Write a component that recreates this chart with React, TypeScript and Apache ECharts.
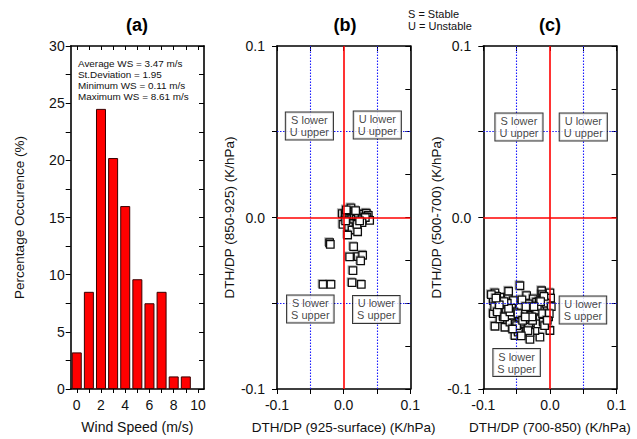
import React, { useEffect, useRef } from "react";
import * as echarts from "echarts";

const windSpeedBins = [0, 1, 2, 3, 4, 5, 6, 7, 8, 9];
const occurrence = [3.2, 8.5, 24.5, 20.2, 16.0, 9.6, 7.5, 8.5, 1.1, 1.1];
const windTicks = [0, 1, 2, 3, 4, 5, 6, 7, 8, 9, 10];
const windLabels = [0, 2, 4, 6, 8, 10];
const statsLines = [
  "Average WS = 3.47 m/s",
  "St.Deviation = 1.95",
  "Minimum WS = 0.11 m/s",
  "Maximum WS = 8.61 m/s",
];

// panel (b): DTH/DP (925-surface) vs DTH/DP (850-925)
const bX = [
  0.011, 0.008, 0.014, -0.002, 0.0025, 0.006, 0.01, 0.013, 0.017, 0.02, 0.023, 0.026, 0.03, 0.034,
  0.037, 0.035, 0.039, 0.005, 0.009, 0.012, 0.016, 0.019, 0.022, 0.028, 0.0325, 0.015, 0.0275,
  -0.001, 0.0075, 0.0126, 0.021, 0.006, 0.02, 0.003, -0.021, -0.02, 0.015, 0.009, 0.0215, 0.0285,
  0.0255, 0.014, -0.031, -0.019, 0.0126, 0.0265, 0.004, 0.018, 0.024,
];
const bY = [
  0.0056, 0.0035, 0.003, 0.0023, 0.0017, 0.002, 0.0015, 0.0008, 0.0012, 0.0018, 0.001, 0.0015,
  0.002, 0.0025, 0.0012, 0.0002, -0.0017, 0.0, -0.0005, -0.0008, -0.0002, -0.001, -0.0005, -0.0008,
  0.0, -0.0035, -0.003, -0.004, -0.0054, -0.0073, -0.0083, -0.0102, -0.004, -0.002, -0.0147,
  -0.0157, -0.017, -0.023, -0.0228, -0.022, -0.0253, -0.031, -0.039, -0.039, -0.038, -0.039,
  0.0045, 0.004, -0.002,
];

// panel (c): DTH/DP (700-850) vs DTH/DP (500-700)
const cX = [
  -0.045, -0.0825, -0.085, -0.0775, -0.085, -0.0825, -0.0675, -0.0525, -0.03, -0.015, 0.0, -0.0125,
  0.0, -0.0625, -0.035, -0.025, -0.0575, -0.04, -0.025, -0.0125, -0.0025, -0.07, -0.05, -0.03,
  -0.015, -0.04, -0.0225, -0.06, -0.005, -0.045, -0.055, -0.075, -0.02, -0.0325, -0.0075, -0.065,
  -0.035, -0.0475, -0.075, -0.08, -0.072, -0.066, -0.058, -0.052, -0.046, -0.042, -0.038, -0.028,
  -0.018, -0.01, -0.004, 0.001, -0.002, -0.008, -0.012, -0.022, -0.032, -0.044, -0.054, -0.064,
  -0.07, -0.078, -0.062, -0.036, -0.026, -0.016, -0.048, -0.03, -0.02, -0.01, -0.088, -0.083,
  -0.079, -0.073, -0.068, -0.06, -0.05, -0.041, -0.033, -0.027, -0.019, -0.011, -0.006, 0.002,
  -0.001, -0.004, -0.009, -0.014, -0.024, -0.037, -0.043, -0.056, -0.062, -0.069, -0.076, -0.081,
];
const cY = [
  -0.0398, -0.044, -0.0485, -0.0514, -0.056, -0.0634, -0.064, -0.0688, -0.0711, -0.0698, -0.0659,
  -0.0427, -0.044, -0.0466, -0.0456, -0.0475, -0.0524, -0.0553, -0.0553, -0.0533, -0.0514, -0.0533,
  -0.0591, -0.0601, -0.0591, -0.064, -0.0659, -0.061, -0.0572, -0.0514, -0.0485, -0.0466, -0.0494,
  -0.0504, -0.0485, -0.0572, -0.0659, -0.0668, -0.0591, -0.046, -0.05, -0.055, -0.057, -0.062,
  -0.058, -0.048, -0.062, -0.057, -0.062, -0.061, -0.054, -0.047, -0.058, -0.063, -0.045, -0.053,
  -0.064, -0.061, -0.055, -0.05, -0.058, -0.053, -0.043, -0.052, -0.06, -0.049, -0.056, -0.067,
  -0.054, -0.047, -0.045, -0.052, -0.055, -0.049, -0.058, -0.055, -0.063, -0.06, -0.066, -0.058,
  -0.052, -0.056, -0.05, -0.052, -0.056, -0.06, -0.046, -0.049, -0.052, -0.058, -0.069, -0.065,
  -0.053, -0.049, -0.051, -0.047,
];

const boxTexts = ["S lower\nU upper", "U lower\nU upper", "S lower\nS upper", "U lower\nS upper"];
const boxPosB = [
  [-0.0514, 0.0533],
  [0.0505, 0.054],
  [-0.05, -0.0533],
  [0.049, -0.0536],
];
const boxPosC = [
  [-0.0465, 0.0528],
  [0.05, 0.0528],
  [-0.05, -0.0846],
  [0.0495, -0.0539],
];
const quadrantLinesX = [-0.05, 0.05];
const quadrantLinesY = [0.05, -0.05];

const FONT = "Liberation Sans, Arial, sans-serif";

export default function App() {
  const ref = useRef<HTMLDivElement>(null);
  useEffect(() => {
    if (!ref.current) return;
    const chart = echarts.init(ref.current, null, { renderer: "svg" });

    const axisLine = { show: true, onZero: false, lineStyle: { color: "#000", width: 1.6 } };
    const labelStyle = { fontFamily: FONT, fontSize: 14, color: "#111" };
    const nameStyle = { fontFamily: FONT, fontSize: 13.5, color: "#111" };
    const fmt01 = (v: number) => {
      const r = Math.round(v * 100);
      if (r % 10 !== 0) return "";
      const t = Math.round(v * 10) / 10;
      return (t === 0 ? 0 : t).toFixed(1);
    };

    const dtGrid = (xi: number) => ({
      xMain: {
        type: "value",
        gridIndex: xi,
        min: -0.1,
        max: 0.1,
        interval: 0.05,
        position: "bottom",
        axisLine,
        axisTick: { show: true, inside: false, length: 5, lineStyle: { color: "#000" } },
        axisLabel: { ...labelStyle, margin: 9, formatter: fmt01, showMinLabel: true, showMaxLabel: true },
        splitLine: { show: false },
        nameLocation: "middle",
        nameGap: 31,
        nameTextStyle: nameStyle,
      },
      xTop: {
        type: "value",
        gridIndex: xi,
        min: -0.1,
        max: 0.1,
        interval: 0.05,
        position: "top",
        axisLine,
        axisTick: { show: true, inside: true, length: 5, lineStyle: { color: "#000" } },
        axisLabel: { show: false },
        splitLine: { show: false },
      },
      yMain: {
        type: "value",
        gridIndex: xi,
        min: -0.1,
        max: 0.1,
        interval: 0.05,
        position: "left",
        axisLine,
        axisTick: { show: true, inside: false, length: 5, lineStyle: { color: "#000" } },
        axisLabel: { ...labelStyle, margin: 12, formatter: fmt01, showMinLabel: true, showMaxLabel: true },
        splitLine: { show: false },
        nameLocation: "middle",
        nameGap: 37,
        nameTextStyle: nameStyle,
      },
      yRight: {
        type: "value",
        gridIndex: xi,
        min: -0.1,
        max: 0.1,
        interval: 0.025,
        position: "right",
        axisLine,
        axisTick: { show: true, inside: true, length: 5, lineStyle: { color: "#000" } },
        axisLabel: { show: false },
        splitLine: { show: false },
      },
    });

    const gB = dtGrid(1);
    const gC = dtGrid(2);

    const refLines = (xAxisIndex: number, yAxisIndex: number) => [
      {
        type: "line",
        xAxisIndex,
        yAxisIndex,
        data: [],
        z: 1,
        silent: true,
        color: "#1a1aff",
        markLine: {
          silent: true,
          symbol: "none",
          label: { show: false },
          animation: false,
          lineStyle: { color: "#1a1aff", width: 1.1, type: [1.5, 1.5], opacity: 1 },
          data: [
            ...quadrantLinesX.map((v) => ({ xAxis: v })),
            ...quadrantLinesY.map((v) => ({ yAxis: v })),
          ],
        },
      },
      {
        type: "line",
        xAxisIndex,
        yAxisIndex,
        data: [],
        z: 5,
        silent: true,
        color: "#ff0000",
        markLine: {
          silent: true,
          symbol: "none",
          label: { show: false },
          animation: false,
          lineStyle: { color: "#ff0000", width: 1.6, type: "solid", opacity: 1 },
          data: [{ xAxis: 0 }, { yAxis: 0 }],
        },
      },
    ];

    const scatter = (xs: number[], ys: number[], xAxisIndex: number, yAxisIndex: number) => ({
      type: "scatter",
      xAxisIndex,
      yAxisIndex,
      symbol: "rect",
      symbolSize: 7.5,
      z: 3,
      itemStyle: {
        color: "#fff",
        borderColor: "#111",
        borderWidth: 1.3,
        opacity: 1,
        shadowColor: "rgba(0,0,0,0.3)",
        shadowBlur: 0,
        shadowOffsetX: -1,
        shadowOffsetY: -1,
      },
      data: xs.map((x, i) => [x, ys[i]]),
    });

    const boxes = (pos: number[][], xAxisIndex: number, yAxisIndex: number) => ({
      type: "scatter",
      xAxisIndex,
      yAxisIndex,
      symbolSize: 0,
      z: 10,
      silent: true,
      label: {
        show: true,
        position: "inside",
        formatter: (p: any) => boxTexts[p.dataIndex],
        fontFamily: FONT,
        fontSize: 11,
        lineHeight: 12,
        color: "#111",
        align: "center",
        verticalAlign: "middle",
        backgroundColor: "#fff",
        borderColor: "#000",
        borderWidth: 1,
        padding: [2, 4, 1, 4],
      },
      data: pos.map((p) => [p[0], p[1]]),
    });

    const option: any = {
      animation: false,
      backgroundColor: "#fff",
      grid: [
        { left: 70.7, top: 46, width: 133.3, height: 345 },
        { left: 277, top: 46, width: 133.3, height: 345 },
        { left: 483.3, top: 46, width: 133.3, height: 345 },
      ],
      xAxis: [
        {
          type: "value",
          gridIndex: 0,
          min: -0.5,
          max: 10.5,
          position: "bottom",
          axisLine,
          axisTick: { show: true, inside: false, length: 4, customValues: windTicks, lineStyle: { color: "#000" } },
          axisLabel: { ...labelStyle, margin: 9, customValues: windLabels },
          splitLine: { show: false },
          name: "Wind Speed (m/s)",
          nameLocation: "middle",
          nameGap: 31,
          nameTextStyle: { ...nameStyle, fontSize: 14 },
        },
        {
          type: "value",
          gridIndex: 0,
          min: -0.5,
          max: 10.5,
          position: "top",
          axisLine,
          axisTick: { show: true, inside: true, length: 4, customValues: windTicks, lineStyle: { color: "#000" } },
          axisLabel: { show: false },
          splitLine: { show: false },
        },
        { ...gB.xMain, name: "DTH/DP (925-surface) (K/hPa)" },
        gB.xTop,
        { ...gC.xMain, name: "DTH/DP (700-850) (K/hPa)" },
        gC.xTop,
      ],
      yAxis: [
        {
          type: "value",
          gridIndex: 0,
          min: 0,
          max: 30,
          interval: 5,
          position: "left",
          axisLine,
          axisTick: { show: true, inside: false, length: 5, lineStyle: { color: "#000" } },
          minorTick: { show: true, splitNumber: 2, length: 5, lineStyle: { color: "#000" } },
          axisLabel: { ...labelStyle, margin: 6 },
          splitLine: { show: false },
          name: "Percentage Occurence (%)",
          nameLocation: "middle",
          nameGap: 44,
          nameTextStyle: nameStyle,
        },
        {
          type: "value",
          gridIndex: 0,
          min: 0,
          max: 30,
          interval: 5,
          position: "right",
          axisLine,
          axisTick: { show: true, inside: true, length: 5, lineStyle: { color: "#000" } },
          minorTick: { show: true, splitNumber: 2, length: 5, lineStyle: { color: "#000" } },
          axisLabel: { show: false },
          splitLine: { show: false },
        },
        { ...gB.yMain, name: "DTH/DP (850-925) (K/hPa)" },
        gB.yRight,
        { ...gC.yMain, name: "DTH/DP (500-700) (K/hPa)" },
        gC.yRight,
      ],
      series: [
        {
          type: "bar",
          xAxisIndex: 0,
          yAxisIndex: 0,
          barWidth: 10,
          itemStyle: { color: "#ff0000", borderColor: "#3a0000", borderWidth: 1 },
          data: windSpeedBins.map((x, i) => [x, occurrence[i]]),
        },
        ...refLines(2, 2),
        scatter(bX, bY, 2, 2),
        boxes(boxPosB, 2, 2),
        ...refLines(4, 4),
        scatter(cX, cY, 4, 4),
        boxes(boxPosC, 4, 4),
      ],
      graphic: [
        {
          type: "text",
          x: 137,
          y: 25,
          style: { text: "(a)", font: `bold 18px ${FONT}`, fill: "#000", align: "center", verticalAlign: "middle" },
        },
        {
          type: "text",
          x: 345,
          y: 25,
          style: { text: "(b)", font: `bold 18px ${FONT}`, fill: "#000", align: "center", verticalAlign: "middle" },
        },
        {
          type: "text",
          x: 550,
          y: 25,
          style: { text: "(c)", font: `bold 18px ${FONT}`, fill: "#000", align: "center", verticalAlign: "middle" },
        },
        {
          type: "text",
          x: 408,
          y: 8,
          style: { text: "S = Stable\nU = Unstable", font: `11px ${FONT}`, lineHeight: 12, fill: "#111" },
        },
        {
          type: "text",
          x: 78,
          y: 57.5,
          style: { text: statsLines.join("\n"), font: `9.9px ${FONT}`, lineHeight: 11, fill: "#111" },
        },
      ],
    };

    chart.setOption(option);
    return () => chart.dispose();
  }, []);

  return <div ref={ref} style={{ width: 637, height: 439, position: "absolute", left: 0, top: 0 }} />;
}
